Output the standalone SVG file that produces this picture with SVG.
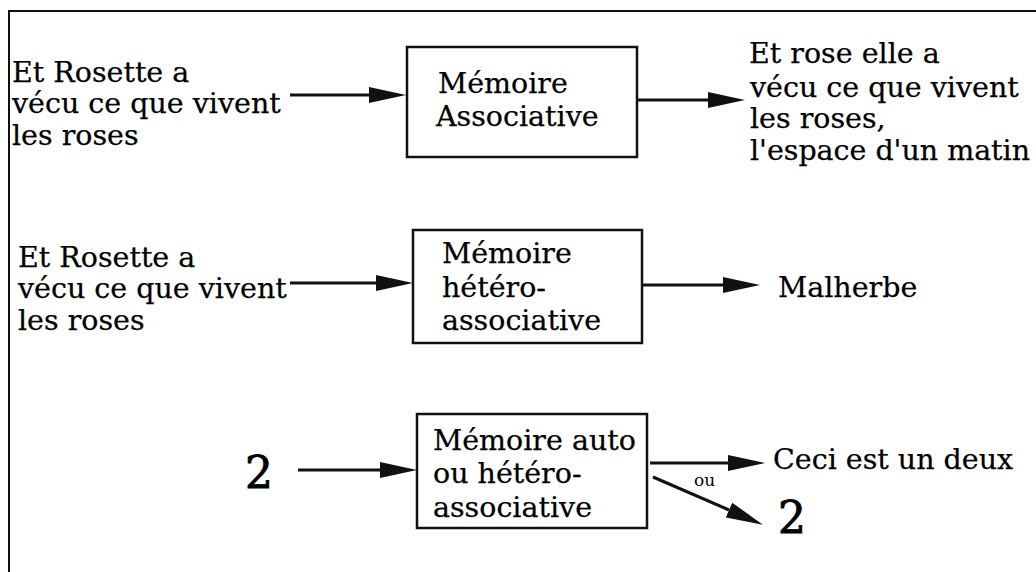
<svg xmlns="http://www.w3.org/2000/svg" width="1036" height="572" viewBox="0 0 1036 572">
  <style>
    .t { font-family: "DejaVu Serif", "Liberation Serif", serif; font-size: 28.5px; fill: #000; stroke: #000; stroke-width: 0.25; }
    .big { font-family: "DejaVu Serif", "Liberation Serif", serif; font-size: 44px; fill: #000; stroke: #000; stroke-width: 0.9; }
    .small { font-family: "DejaVu Serif", "Liberation Serif", serif; font-size: 17px; fill: #000; }
    .box { fill: #fff; stroke: #111; stroke-width: 2.5; }
    .wire { fill: none; stroke: #111; stroke-width: 3; marker-end: url(#head); }
    .frame { fill: none; stroke: #111; stroke-width: 2; }
  </style>
  <defs>
    <!-- filled arrowhead; the line stops at the base and the head extends past it -->
    <marker id="head" markerUnits="userSpaceOnUse" markerWidth="38" markerHeight="18" refX="0" refY="9" orient="auto">
      <path d="M0,1 L37,9 L0,17 Z" fill="#111"/>
    </marker>
  </defs>

  <!-- outer frame: top rule and left rule -->
  <path class="frame" d="M9,572 L9,11 L1036,11"/>

  <!-- row 1 -->
  <g id="in1">
    <text class="t" x="12" y="82">Et Rosette a</text>
    <text class="t" x="12" y="113">vécu ce que vivent</text>
    <text class="t" x="12" y="145">les roses</text>
  </g>
  <g id="assoc">
    <rect class="box" x="407" y="47" width="230" height="110"/>
    <text class="t" x="438" y="93">Mémoire</text>
    <text class="t" x="436" y="126">Associative</text>
  </g>
  <g id="out1">
    <text class="t" x="749" y="63">Et rose elle a</text>
    <text class="t" x="750" y="97">vécu ce que vivent</text>
    <text class="t" x="750" y="128">les roses,</text>
    <text class="t" x="750" y="160" textLength="280">l'espace d'un matin</text>
  </g>

  <!-- row 2 -->
  <g id="in2">
    <text class="t" x="18" y="267">Et Rosette a</text>
    <text class="t" x="18" y="298">vécu ce que vivent</text>
    <text class="t" x="18" y="330">les roses</text>
  </g>
  <g id="hetero">
    <rect class="box" x="413" y="230" width="229" height="113"/>
    <text class="t" x="442" y="263">Mémoire</text>
    <text class="t" x="442" y="297">hétéro-</text>
    <text class="t" x="442" y="330">associative</text>
  </g>
  <g id="out2">
    <text class="t" x="778" y="297">Malherbe</text>
  </g>

  <!-- row 3 -->
  <g id="in3">
    <text class="big" x="245" y="488">2</text>
  </g>
  <g id="autohetero">
    <rect class="box" x="417" y="414" width="230" height="114"/>
    <text class="t" x="433" y="450">Mémoire auto</text>
    <text class="t" x="433" y="483">ou hétéro-</text>
    <text class="t" x="433" y="517">associative</text>
  </g>
  <g id="out3a">
    <text class="t" x="773" y="469">Ceci est un deux</text>
  </g>
  <g id="out3b">
    <text class="big" x="778" y="533">2</text>
  </g>

  <!-- connectors -->
  <g id="connectors">
    <path class="wire" d="M290,95 L369,95"/>
    <path class="wire" d="M638,100 L708,100"/>
    <path class="wire" d="M290,283 L376,283"/>
    <path class="wire" d="M643,285 L723,285"/>
    <path class="wire" d="M298,470 L380,470"/>
    <path class="wire" d="M650,463 L728,463"/>
    <path class="wire" d="M653,477 L729,510"/>
    <text class="small" x="694" y="486">ou</text>
  </g>
</svg>
